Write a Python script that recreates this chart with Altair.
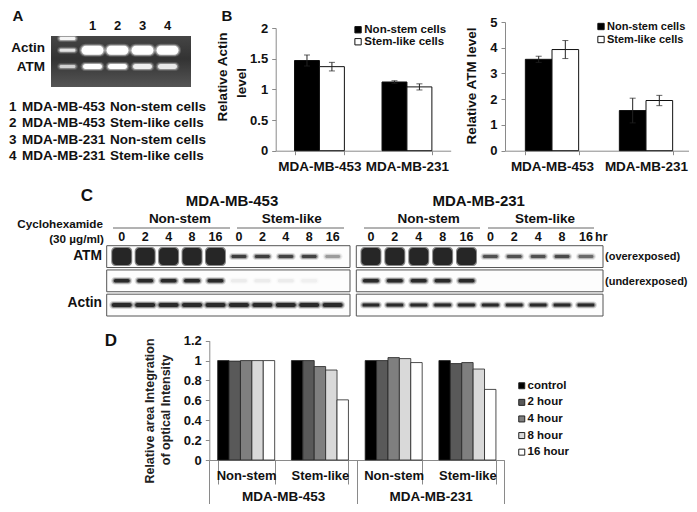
import altair as alt
import pandas as pd

W, H = 681, 496
FONT = "Liberation Sans"
AXC = "#8a8a8a"
lines = ["MDA-MB-453", "MDA-MB-231"]
cell_series = ["Non-stem cells", "Stem-like cells"]
actin_vals = [[1.47, 1.37], [1.12, 1.04]]
actin_errs = [[0.09, 0.07], [0.02, 0.05]]
atm_vals = [[3.55, 3.93], [1.56, 1.95]]
atm_errs = [[0.12, 0.35], [0.48, 0.20]]
d_groups = ["453|Non-stem", "453|Stem-like", "231|Non-stem", "231|Stem-like"]
d_series = ["control", "2 hour", "4 hour", "8 hour", "16 hour"]
d_colors = ["#000000", "#595959", "#7f7f7f", "#d9d9d9", "#ffffff"]
d_vals = [[1.00, 0.995, 1.00, 1.00, 1.00], [1.00, 1.00, 0.94, 0.905, 0.605],
          [1.00, 1.00, 1.03, 1.02, 0.98], [1.00, 0.97, 0.98, 0.915, 0.71]]
gel_lanes = ["L", "1", "2", "3", "4"]
gel_numbers = ["1", "2", "3", "4"]
table_rows = ["1", "2", "3", "4"]
table_lines = ["MDA-MB-453", "MDA-MB-453", "MDA-MB-231", "MDA-MB-231"]
table_types = ["Non-stem cells", "Stem-like cells", "Non-stem cells", "Stem-like cells"]
lanes = list(range(10))
lane_labels = ["0", "2", "4", "8", "16", "0", "2", "4", "8", "16"]
rows = ["ATM over", "ATM under", "Actin"]
over_453 = [1, 1, 1, 1, 1, 0.9, 0.9, 0.85, 0.85, 0.35]
under_453 = [1, 1, 1, 1, 1, 0.05, 0.05, 0.05, 0.04, 0]
actin_453 = [1] * 10
over_231 = [1, 1, 1, 1, 1, 0.75, 0.75, 0.75, 0.8, 0.6]
under_231 = [1, 1, 1, 1, 1, 0, 0, 0, 0, 0]
actin_231 = [1] * 10


def px(v):
    return v - 8


def label(text, x, y, size=13.5, align="center", angle=0, color="#111111", weight="bold"):
    return alt.Chart(pd.DataFrame({"t": [text]})).mark_text(
        font=FONT, fontSize=size, fontWeight=weight, align=align, baseline="middle", angle=angle, color=color
    ).encode(x=alt.value(px(x)), y=alt.value(px(y)), text="t:N")


def hline(x0, x1, y, color="#666666", width=1):
    return alt.Chart(pd.DataFrame({"a": [0]})).mark_rule(color=color, strokeWidth=width).encode(
        x=alt.value(px(x0)), x2=alt.value(px(x1)), y=alt.value(px(y)))


def glow(df, x, y, w, h, color, radius=None, levels=((5, 4, .18), (2.5, 2, .4), (0, 0, 1))):
    out = []
    for dw, dh, a in levels:
        d = df.assign(op=df["i"] * a)
        r = radius if radius is not None else (h + dh) / 2
        out.append(alt.Chart(d).mark_tick(orient="horizontal", size=w + dw, thickness=h + dh, color=color,
                                          cornerRadius=r).encode(x=x, y=y, opacity=alt.Opacity("op:Q", scale=None)))
    return out


# panel A
gel_x = alt.X("lane:N", title=None, axis=None,
              scale=alt.Scale(domain=gel_lanes, range=[px(55), px(180)], paddingInner=0, paddingOuter=0))
gel_y = alt.Y("mig:Q", title=None, axis=None, scale=alt.Scale(domain=[0, 100], range=[px(36), px(87)]))
gel_bg = alt.Chart(pd.DataFrame({"a": [0]})).mark_rect(
    fill=alt.LinearGradient(gradient="linear", x1=0, y1=0, x2=0, y2=1, stops=[
        alt.GradientStop(offset=0, color="#454545"), alt.GradientStop(offset=0.45, color="#333333"),
        alt.GradientStop(offset=1, color="#555555")])
).encode(x=alt.value(px(51)), x2=alt.value(px(191)), y=alt.value(px(36)), y2=alt.value(px(87)))
ladder = pd.DataFrame({"lane": ["L", "L", "L"], "mig": [5, 28, 60], "i": [1, 0.85, 0.7]})
actin_bands = pd.DataFrame({"lane": gel_numbers, "mig": [28, 28, 28, 28], "i": [1, 1, 1, 1]})
atm_bands = pd.DataFrame({"lane": gel_numbers, "mig": [60, 60, 60, 60], "i": [1, 1, 0.85, 0.8]})
lane_tops = pd.DataFrame({"lane": gel_numbers, "t": gel_numbers})
panel_a = alt.layer(
    gel_bg,
    *glow(ladder, gel_x, gel_y, 16, 3, "#f4f4f4"),
    *glow(actin_bands, gel_x, gel_y, 22, 9, "#ffffff"),
    *glow(atm_bands, gel_x, gel_y, 19, 5, "#ffffff"),
    alt.Chart(lane_tops).mark_text(font=FONT, fontSize=13, fontWeight="bold", color="#111111").encode(
        x=gel_x, y=alt.value(px(26)), text="t:N"))
tab = pd.DataFrame({"r": table_rows, "l": table_lines, "k": table_types})
tab_y = alt.Y("r:N", title=None, axis=None, scale=alt.Scale(domain=table_rows, range=[px(98.8), px(164.4)]))
panel_table = alt.layer(*[
    alt.Chart(tab).mark_text(font=FONT, fontSize=13.5, fontWeight="bold", align="left", color="#111111").encode(
        x=alt.value(px(xp)), y=tab_y, text=f"{c}:N") for c, xp in [("r", 9), ("l", 22), ("k", 110)]])


# panel B
def panel_b(vals, errs, x0, x1, y0, y1, top, ticks, pad_in, pad_out, legend_x, legend_y, row_pad, legend_font):
    recs = []
    for li, l in enumerate(lines):
        for si, s in enumerate(cell_series):
            recs.append({"line": l, "series": s, "v": vals[li][si],
                         "lo": vals[li][si] - errs[li][si], "hi": vals[li][si] + errs[li][si]})
    df = pd.DataFrame(recs)
    yscale = alt.Scale(domain=[0, top], range=[px(y0), px(y1)], nice=False)
    xscale = alt.Scale(domain=lines, range=[px(x0), px(x1)], paddingInner=pad_in, paddingOuter=pad_out)
    x = alt.X("line:N", sort=lines, title=None, scale=xscale,
              axis=alt.Axis(orient="bottom", offset=-(H - px(y0)), tickBand="extent", domainColor=AXC, tickColor=AXC,
                            tickSize=4, labelAngle=0, labelFont=FONT, labelFontSize=13.5, labelFontWeight="bold",
                            labelColor="#111111", labelPadding=5, labelOverlap=False, grid=False))
    y = alt.Y("v:Q", title=None, scale=yscale, stack=None,
              axis=alt.Axis(orient="left", offset=-px(x0), values=ticks, format="~g", domainColor=AXC, tickColor=AXC,
                            tickSize=4, labelFont=FONT, labelFontSize=13, labelFontWeight="bold",
                            labelColor="#111111", labelPadding=4, grid=False))
    xoff = alt.XOffset("series:N", sort=cell_series, scale=alt.Scale(domain=cell_series))
    bars = alt.Chart(df).mark_bar(stroke="#111111", strokeWidth=1).encode(
        x=x, y=y, xOffset=xoff,
        color=alt.Color("series:N", sort=cell_series,
                        scale=alt.Scale(domain=cell_series, range=["#000000", "#ffffff"]),
                        legend=alt.Legend(orient="none", legendX=px(legend_x), legendY=px(legend_y), title=None,
                                          symbolType="square", symbolSize=40, symbolStrokeColor="#111111",
                                          symbolStrokeWidth=1, labelFont=FONT, labelFontSize=legend_font,
                                          labelFontWeight="bold", labelColor="#111111", labelOffset=0.5,
                                          rowPadding=row_pad, padding=0, symbolOpacity=1)))
    xna = alt.X("line:N", sort=lines, title=None, scale=xscale, axis=None)
    rule = alt.Chart(df).mark_rule(color="#222222", strokeWidth=1).encode(
        x=xna, xOffset=xoff, y=alt.Y("lo:Q", axis=None, scale=yscale), y2="hi:Q")
    cap_lo = alt.Chart(df).mark_tick(orient="horizontal", size=6, thickness=1, color="#222222").encode(
        x=xna, xOffset=xoff, y=alt.Y("lo:Q", axis=None, scale=yscale))
    cap_hi = alt.Chart(df).mark_tick(orient="horizontal", size=6, thickness=1, color="#222222").encode(
        x=xna, xOffset=xoff, y=alt.Y("hi:Q", axis=None, scale=yscale))
    return [bars, rule, cap_lo, cap_hi]


panel_b1 = panel_b(actin_vals, actin_errs, 275.7, 450.7, 150.7, 28, 2, [0, 0.5, 1, 1.5, 2], 0.43, 0.215, 352.3, 24, -1, 11.5)
panel_b2 = panel_b(atm_vals, atm_errs, 505, 693, 150.7, 22, 5, [0, 1, 2, 3, 4, 5], 0.433, 0.2165, 595.5, 21, 1, 11)


# panel C
def blot(over, under, actin, x0, x1, fx0, fx1, blob_w, actin_w, actin_h):
    xs = alt.X("lane:O", title=None, axis=None,
               scale=alt.Scale(domain=lanes, range=[px(x0), px(x1)], paddingInner=0, paddingOuter=0))
    ys = alt.Y("row:N", title=None, axis=None,
               scale=alt.Scale(domain=rows, range=[px(245.7), px(316)], paddingInner=0.1, paddingOuter=0))

    def tbl(row, vals, keep):
        return pd.DataFrame([{"lane": l, "row": row, "i": v} for l, v in zip(lanes, vals) if keep(l, v)])

    frames = alt.Chart(pd.DataFrame({"row": rows})).mark_rect(fill="#fdfdfd", stroke="#555555", strokeWidth=1).encode(
        x=alt.value(px(fx0)), x2=alt.value(px(fx1)), y=ys)
    blobs = tbl(rows[0], over, lambda l, v: l < 5)
    thin = tbl(rows[0], over, lambda l, v: l >= 5)
    under_t = tbl(rows[1], under, lambda l, v: v > 0)
    act = tbl(rows[2], actin, lambda l, v: True)
    tops = pd.DataFrame({"lane": lanes, "t": lane_labels})
    return alt.layer(
        frames,
        *glow(blobs, xs, ys, blob_w, 17, "#262626", radius=4, levels=((2, 2, .55), (0, 0, 1))),
        *glow(thin, xs, ys, 15, 3, "#333333"),
        *glow(under_t, xs, ys, 16, 3.5, "#2a2a2a"),
        *glow(act, xs, ys, actin_w, actin_h, "#2a2a2a"),
        alt.Chart(tops).mark_text(font=FONT, fontSize=12.5, fontWeight="bold", color="#111111").encode(
            x=xs, y=alt.value(px(237.3)), text="t:N"))


panel_c1 = blot(over_453, under_453, actin_453, 110, 344.4, 106.7, 350, 19, 20, 4)
panel_c2 = blot(over_231, under_231, actin_231, 359, 597.9, 356.3, 603, 19, 17, 3)

# panel D
d_df = pd.DataFrame([{"g": g, "s": s, "v": d_vals[gi][si]} for gi, g in enumerate(d_groups)
                     for si, s in enumerate(d_series)])
d_x = alt.X("g:N", sort=d_groups, title=None,
            scale=alt.Scale(domain=d_groups, range=[px(209.3), px(504.3)], paddingInner=0.227, paddingOuter=0.1135),
            axis=alt.Axis(orient="bottom", offset=-(H - px(460)), tickBand="extent", domainColor=AXC, tickColor=AXC,
                          tickSize=24, labelAngle=0, labelFont=FONT, labelFontSize=13, labelFontWeight="bold",
                          labelColor="#111111", labelPadding=-14.5, labelOverlap=False, grid=False,
                          labelExpr="split(datum.label,'|')[1]"))
d_y = alt.Y("v:Q", title=None, stack=None, scale=alt.Scale(domain=[0, 1.2], range=[px(460), px(340.7)], nice=False),
            axis=alt.Axis(orient="left", offset=-px(209.3), values=[0, 0.2, 0.4, 0.6, 0.8, 1, 1.2], format="~g",
                          domainColor=AXC, tickColor=AXC, tickSize=4, labelFont=FONT, labelFontSize=13,
                          labelFontWeight="bold", labelColor="#111111", labelPadding=4, grid=False))
panel_d_bars = alt.Chart(d_df).mark_bar(stroke="#222222", strokeWidth=0.8).encode(
    x=d_x, y=d_y, xOffset=alt.XOffset("s:N", sort=d_series, scale=alt.Scale(domain=d_series)),
    color=alt.Color("s:N", sort=d_series, scale=alt.Scale(domain=d_series, range=d_colors),
                    legend=alt.Legend(orient="none", legendX=px(516), legendY=px(380), title=None,
                                      symbolType="square", symbolSize=36, symbolStrokeColor="#222222",
                                      symbolStrokeWidth=1, labelFont=FONT, labelFontSize=11.5,
                                      labelFontWeight="bold", labelColor="#111111", labelOffset=0,
                                      rowPadding=3.6, padding=0)))
panel_d_lines = alt.Chart(pd.DataFrame({"line": lines})).mark_tick(opacity=0).encode(
    x=alt.X("line:N", sort=lines, title=None,
            scale=alt.Scale(domain=lines, range=[px(209.3), px(504.3)], paddingInner=0, paddingOuter=0),
            axis=alt.Axis(orient="bottom", offset=-(H - px(460)), tickBand="extent", domain=False, tickColor=AXC,
                          tickSize=44, labelAngle=0, labelFont=FONT, labelFontSize=13.5, labelFontWeight="bold",
                          labelColor="#111111", labelPadding=-15, labelOverlap=False, grid=False)),
    y=alt.value(0))

texts = [
    label("A", 18, 16, 15), label("B", 227, 16, 15), label("C", 87, 196, 17), label("D", 111, 341, 17),
    label("Actin", 45, 48, 13.5, "right"), label("ATM", 45, 67, 13.5, "right"),
    label("Relative Actin", 223, 77, 13.5, angle=270), label("level", 242, 83, 13.5, angle=270),
    label("Relative ATM level", 472, 86, 13.5, angle=270),
    label("MDA-MB-453", 232, 200.7, 15), label("MDA-MB-231", 478.7, 200.7, 15),
    label("Non-stem", 180, 219, 13.5), label("Stem-like", 291.7, 219, 13.5),
    label("Non-stem", 428.7, 219, 13.5), label("Stem-like", 545, 219, 13.5),
    label("Cyclohexamide", 103, 224, 11.7, "right"), label("(30 µg/ml)", 104, 239, 11.7, "right"),
    label("ATM", 102, 256, 13.8, "right"), label("Actin", 102, 303, 13.8, "right"),
    label("hr", 595, 237.3, 12.5, "left"),
    label("(overexposed)", 605, 257, 11, "left"), label("(underexposed)", 605, 281.7, 11, "left"),
    label("Relative  area  Integration", 150, 411, 12.5, angle=270, color="#222222"),
    label("of optical  Intensity", 165.7, 410, 12.5, angle=270, color="#222222"),
    hline(113, 230, 228), hline(237, 344, 228), hline(364, 480, 228), hline(488, 594, 228),
]

chart = alt.layer(
    panel_a, panel_table, *panel_b1, *panel_b2, panel_c1, panel_c2, panel_d_bars, panel_d_lines, *texts
).resolve_scale(x="independent", y="independent", xOffset="independent", color="independent").properties(
    width=W, height=H, padding=0, autosize=alt.AutoSizeParams(type="none")
).configure_view(stroke=None)

chart.save("out.html", embed_options={"renderer": "svg", "actions": False})
